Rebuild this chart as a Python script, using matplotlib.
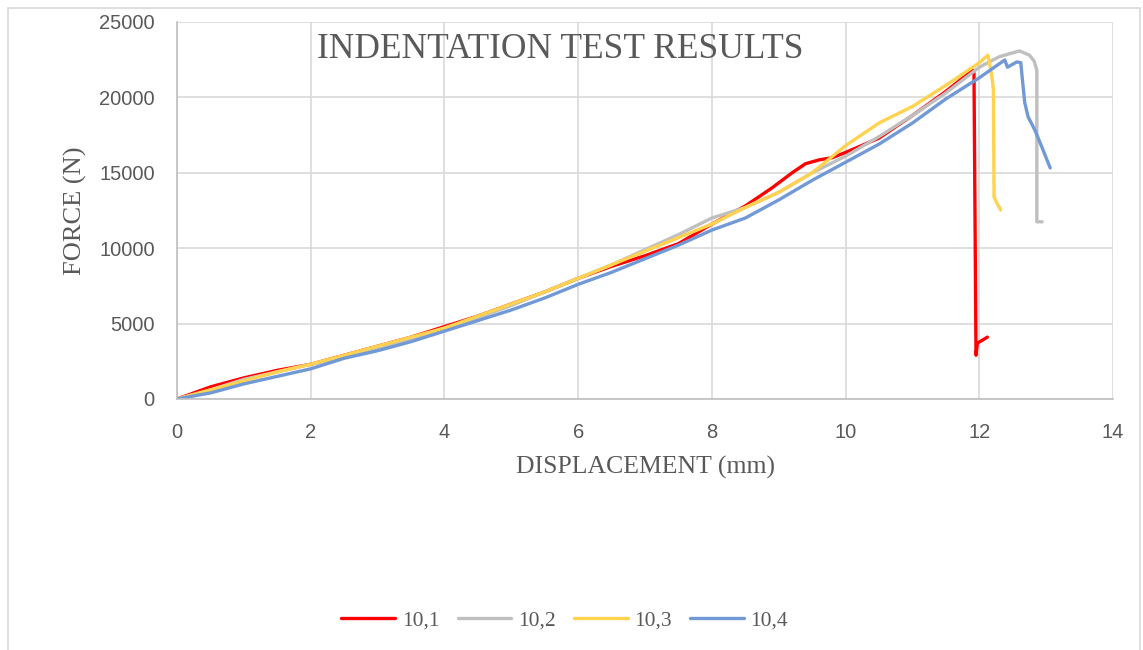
import matplotlib.pyplot as plt
from matplotlib.patches import Rectangle

# displacement (mm) / force (N) for each specimen
disp_101 = [0, 0.5, 1, 1.5, 2, 2.5, 3, 3.5, 4, 4.5, 5, 5.5, 6, 6.5, 7, 7.5, 8, 8.5, 8.9,
            9.2, 9.4, 9.6, 9.8, 10, 10.5, 11, 11.5, 11.9, 11.92, 11.95, 11.97, 12.12]
force_101 = [0, 800, 1400, 1900, 2300, 2900, 3500, 4100, 4800, 5500, 6300, 7100, 8000, 8800, 9500,
             10300, 11600, 12800, 14000, 15000, 15600, 15850, 16000, 16350, 17300, 18800, 20400,
             21800, 21600, 2900, 3700, 4100]

disp_102 = [0, 0.5, 1, 1.5, 2, 2.5, 3, 3.5, 4, 4.5, 5, 5.5, 6, 6.5, 7, 7.5, 8, 8.5, 9, 9.5,
            10, 10.5, 11, 11.5, 12, 12.3, 12.6, 12.75, 12.82, 12.86, 12.86, 12.94]
force_102 = [0, 600, 1300, 1800, 2300, 2800, 3400, 4000, 4700, 5400, 6200, 7100, 8000, 8900, 9900,
             10900, 12000, 12700, 13700, 15000, 16100, 17400, 18800, 20300, 22000, 22700, 23080,
             22800, 22400, 21800, 11750, 11750]

disp_103 = [0, 0.5, 1, 1.5, 2, 2.5, 3, 3.5, 4, 4.5, 5, 5.5, 6, 6.5, 7, 7.5, 8, 8.5, 9, 9.5,
            10, 10.5, 11, 11.5, 12, 12.13, 12.19, 12.21, 12.22, 12.26, 12.32]
force_103 = [0, 600, 1200, 1800, 2300, 2900, 3500, 4100, 4700, 5500, 6300, 7100, 8000, 8900, 9800,
             10700, 11600, 12700, 13700, 15000, 16800, 18300, 19400, 20800, 22300, 22800, 21300,
             20500, 13400, 13000, 12530]

disp_104 = [0, 0.5, 1, 1.5, 2, 2.5, 3, 3.5, 4, 4.5, 5, 5.5, 6, 6.5, 7, 7.5, 8, 8.5, 9, 9.5,
            10, 10.5, 11, 11.5, 12, 12.38, 12.42, 12.56, 12.62, 12.64, 12.68, 12.73, 12.83,
            12.91, 13.06]
force_104 = [0, 400, 1000, 1500, 2000, 2700, 3200, 3800, 4500, 5200, 5900, 6700, 7600, 8400, 9300,
             10200, 11200, 12000, 13200, 14500, 15700, 16900, 18300, 19900, 21300, 22480, 22000,
             22350, 22300, 21350, 19630, 18700, 17840, 16980, 15320]

labels = ['10,1', '10,2', '10,3', '10,4']
colors = ['#ff0000', '#bfbfbf', '#ffd34f', '#7199d6']

fig = plt.figure(figsize=(11.43, 6.5), dpi=100)
ax = fig.add_axes([0.1549, 0.3862, 0.8189, 0.58])

series = [(disp_101, force_101), (disp_102, force_102), (disp_103, force_103), (disp_104, force_104)]
for (x, y), lab, c in zip(series, labels, colors):
    ax.plot(x, y, color=c, lw=2.4, label=lab, solid_joinstyle='round', solid_capstyle='round')

ax.set_xlim(0, 14)
ax.set_ylim(0, 25000)
ax.set_xticks(range(0, 15, 2))
ax.set_yticks(range(0, 25001, 5000))
ax.grid(True, color='#d9d9d9', lw=1.2)
ax.set_axisbelow(True)
for s in ['top', 'right']:
    ax.spines[s].set_visible(False)
for s in ['left', 'bottom']:
    ax.spines[s].set_color('#bfbfbf')
    ax.spines[s].set_linewidth(1.2)
ax.tick_params(length=0, labelsize=14.5, labelcolor='#595959')
ax.tick_params(axis='y', pad=16)
ax.tick_params(axis='x', pad=17)
for t in ax.get_xticklabels() + ax.get_yticklabels():
    t.set_family('Liberation Sans')

ax.set_xlabel('DISPLACEMENT (mm)', family='Liberation Serif', fontsize=18.5, color='#595959', labelpad=10)
ax.set_ylabel('FORCE (N)', family='Liberation Serif', fontsize=19, color='#595959', labelpad=9)
ax.text(0.409, 0.928, 'INDENTATION TEST RESULTS', transform=ax.transAxes, ha='center', va='center',
        family='Liberation Serif', fontsize=25.5, color='#595959')

leg = fig.legend(loc='center', bbox_to_anchor=(0.494, 0.046), ncol=4, frameon=False,
                 prop={'family': 'Liberation Serif', 'size': 15.5}, handlelength=2.5,
                 handletextpad=0.3, columnspacing=0.85)
for t in leg.get_texts():
    t.set_color('#595959')

# light chart border
fig.patches.append(Rectangle((0.007, -0.01), 0.99, 0.998, transform=fig.transFigure,
                             fill=False, edgecolor='#d9d9d9', lw=1.2))

fig.savefig('out.png', dpi=100)
